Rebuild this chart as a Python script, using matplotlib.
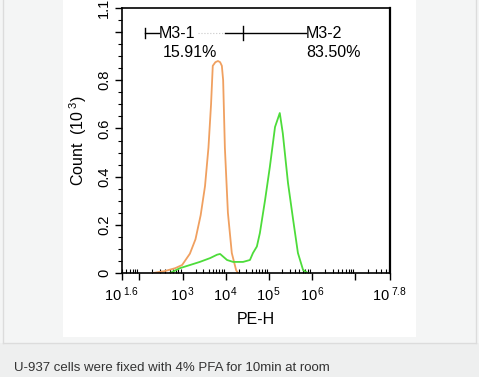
import matplotlib
matplotlib.use("Agg")
import matplotlib.pyplot as plt
from matplotlib.patches import Rectangle
from matplotlib.lines import Line2D
from matplotlib.ticker import FixedLocator, LogLocator, NullFormatter

plt.rcParams['font.family'] = ['Liberation Sans', 'DejaVu Sans']
plt.rcParams['mathtext.fontset'] = 'custom'
plt.rcParams['mathtext.rm'] = 'Liberation Sans'
plt.rcParams['mathtext.it'] = 'Liberation Sans'

# log10(PE-H) and counts (10^3)
orange_log = [2.32, 2.59, 2.83, 2.99, 3.17, 3.30, 3.42, 3.52, 3.60, 3.66, 3.70, 3.76, 3.82,
              3.87, 3.91, 3.94, 3.98, 4.05, 4.14, 4.24, 4.28]
orange_cnt = [0.0, 0.008, 0.02, 0.033, 0.08, 0.14, 0.24, 0.36, 0.52, 0.70, 0.86, 0.875, 0.88,
              0.875, 0.86, 0.80, 0.52, 0.25, 0.083, 0.012, 0.0]

green_log = [2.71, 2.94, 3.17, 3.40, 3.64, 3.80, 3.87, 4.03, 4.17, 4.40, 4.56, 4.63, 4.72,
             4.79, 4.91, 5.02, 5.14, 5.25, 5.32, 5.44, 5.56, 5.67, 5.79, 5.90]
green_cnt = [0.0, 0.02, 0.033, 0.046, 0.062, 0.076, 0.079, 0.054, 0.046, 0.046, 0.054, 0.083, 0.11,
             0.166, 0.303, 0.44, 0.606, 0.664, 0.58, 0.374, 0.22, 0.083, 0.012, 0.0]

y_ticks = [0, 0.2, 0.4, 0.6, 0.8, 1.1]
y_labels = ["0", "0.2", "0.4", "0.6", "0.8", "1.1"]
x_ticks_log = [1.6, 3, 4, 5, 6, 7.8]
x_labels = [r"$10^{\ 1.6}$", r"$10^{\,3}$", r"$10^{\,4}$", r"$10^{\,5}$", r"$10^{\,6}$",
            r"$10^{\ 7.8}$"]

gate1_name, gate1_pct = "M3-1", "15.91%"
gate2_name, gate2_pct = "M3-2", "83.50%"

W, H = 479, 377
fig = plt.figure(figsize=(W / 100, H / 100), dpi=100)
fig.patch.set_facecolor("#f4f5f5")

def px_rect(x0, y0, x1, y1, color):
    fig.patches.append(Rectangle((x0 / W, 1 - y1 / H), (x1 - x0) / W, (y1 - y0) / H,
                                 transform=fig.transFigure, facecolor=color,
                                 edgecolor="none", zorder=-5))

px_rect(63, 0, 416, 337, "#ffffff")
px_rect(0, 343, W, H, "#eeefef")
for xs, ys in [([3, 3], [0, 343]), ([3, 476], [343, 343]), ([476, 476], [0, 343])]:
    fig.lines.append(Line2D([v / W for v in xs], [1 - v / H for v in ys],
                            transform=fig.transFigure, color="#dcdcdc", lw=1, zorder=-4))

ax = fig.add_axes([122 / W, 1 - 273 / H, 268 / W, 265 / H])
ax.set_facecolor("white")

ax.plot([10 ** v for v in orange_log], orange_cnt, color="#f0a060", lw=1.3)
ax.plot([10 ** v for v in green_log], green_cnt, color="#4ddc3a", lw=1.3)

ax.set_xscale("log")
ax.set_xlim(10 ** 1.6, 10 ** 7.8)
ax.set_ylim(0, 1.1)

ax.xaxis.set_major_locator(FixedLocator([10 ** v for v in x_ticks_log] + [1e2, 1e7]))
ax.set_xticklabels(x_labels + ["", ""])
ax.xaxis.set_minor_locator(LogLocator(base=10, subs=range(2, 10), numticks=20))
ax.xaxis.set_minor_formatter(NullFormatter())

ax.yaxis.set_major_locator(FixedLocator(y_ticks + [1.0]))
ax.set_yticklabels(y_labels + [""])
ax.yaxis.set_minor_locator(FixedLocator([i * 0.05 for i in range(23)]))
for lab in ax.get_yticklabels():
    lab.set_rotation(90)
    lab.set_va("center")

ax.tick_params(axis="both", which="major", length=5, width=1, labelsize=10.5, color="black")
ax.tick_params(axis="x", which="minor", direction="in", length=3, width=0.8)
ax.tick_params(axis="y", which="minor", direction="out", length=3, width=0.8)
ax.tick_params(axis="x", pad=4)
ax.tick_params(axis="y", pad=3)

for s in ax.spines.values():
    s.set_linewidth(1.2)
ax.spines["right"].set_linewidth(1.6)

ax.set_xlabel("PE-H", fontsize=11.5, labelpad=6)
ax.set_ylabel(r"Count  $(10^{\ 3})$", fontsize=11.5, labelpad=6)

# gates
gy = 0.996
ax.plot([10 ** 2.13, 10 ** 2.45], [gy, gy], color="black", lw=1)
ax.plot([10 ** 2.13, 10 ** 2.13], [gy - 0.02, gy + 0.02], color="black", lw=1)
ax.plot([10 ** 3.35, 10 ** 3.93], [gy, gy], color="#c8c8c8", lw=0.8, ls=":")
ax.plot([10 ** 3.98, 10 ** 5.85], [gy, gy], color="black", lw=1)
ax.plot([10 ** 4.40, 10 ** 4.40], [gy - 0.03, gy + 0.03], color="black", lw=1)

ax.text(10 ** 2.46, gy, gate1_name, fontsize=11.5, va="center", ha="left")
ax.text(10 ** 2.55, 0.917, gate1_pct, fontsize=11.5, va="center", ha="left")
ax.text(10 ** 5.86, gy, gate2_name, fontsize=11.5, va="center", ha="left")
ax.text(10 ** 5.86, 0.917, gate2_pct, fontsize=11.5, va="center", ha="left")

fig.text(14 / W, 1 - 368 / H, "U-937 cells were fixed with 4% PFA for 10min at room",
         fontsize=9.5, color="#333333", va="center", ha="left")

fig.savefig("out.png", dpi=100, facecolor=fig.get_facecolor())
